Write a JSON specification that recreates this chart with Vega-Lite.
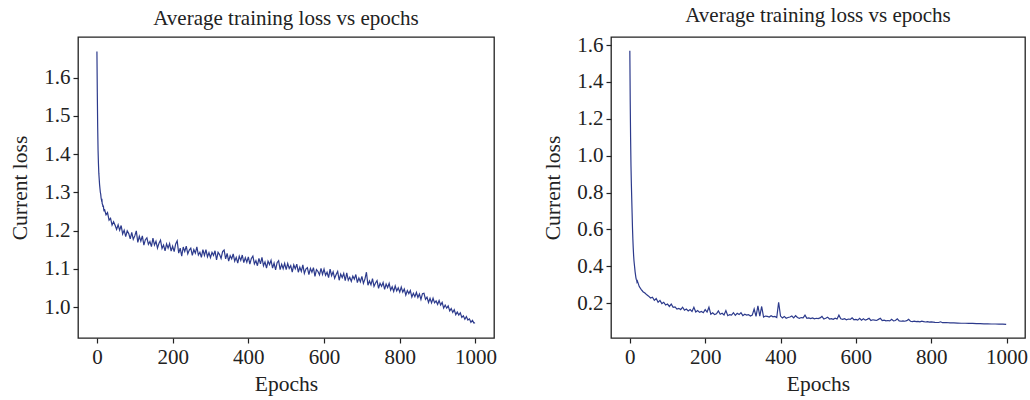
{
  "$schema": "https://vega.github.io/schema/vega-lite/v6.json",
  "background": "white",
  "padding": {"left": 9, "top": 4, "right": 4, "bottom": 4},
  "spacing": 44,
  "datasets": {
    "left": [
      {"epoch":0,"loss":1.668},{"epoch":1,"loss":1.56},{"epoch":2,"loss":1.47},{"epoch":3,"loss":1.41},{"epoch":4,"loss":1.375},{"epoch":5,"loss":1.35},{"epoch":6,"loss":1.335},{"epoch":7,"loss":1.32},{"epoch":8,"loss":1.31},{"epoch":9,"loss":1.3},{"epoch":10,"loss":1.295},{"epoch":11,"loss":1.285},{"epoch":12,"loss":1.28},{"epoch":13,"loss":1.283},{"epoch":14,"loss":1.27},{"epoch":15,"loss":1.268},{"epoch":16,"loss":1.262},{"epoch":17,"loss":1.265},{"epoch":18,"loss":1.255},{"epoch":19,"loss":1.25},
      {"epoch":20,"loss":1.256},{"epoch":24,"loss":1.241},{"epoch":28,"loss":1.247},{"epoch":32,"loss":1.227},{"epoch":36,"loss":1.232},{"epoch":40,"loss":1.214},{"epoch":44,"loss":1.223},{"epoch":48,"loss":1.214},
      {"epoch":52,"loss":1.203},{"epoch":56,"loss":1.215},{"epoch":60,"loss":1.201},{"epoch":64,"loss":1.213},{"epoch":68,"loss":1.191},{"epoch":72,"loss":1.201},{"epoch":76,"loss":1.184},{"epoch":80,"loss":1.199},{"epoch":84,"loss":1.192},{"epoch":88,"loss":1.178},{"epoch":92,"loss":1.195},{"epoch":96,"loss":1.177},
      {"epoch":100,"loss":1.186},{"epoch":104,"loss":1.199},{"epoch":108,"loss":1.169},{"epoch":112,"loss":1.185},{"epoch":116,"loss":1.172},{"epoch":120,"loss":1.186},{"epoch":124,"loss":1.162},{"epoch":128,"loss":1.176},{"epoch":132,"loss":1.181},{"epoch":136,"loss":1.164},{"epoch":140,"loss":1.171},{"epoch":144,"loss":1.158},{"epoch":148,"loss":1.18},{"epoch":152,"loss":1.162},{"epoch":156,"loss":1.172},{"epoch":160,"loss":1.154},{"epoch":164,"loss":1.167},{"epoch":168,"loss":1.175},{"epoch":172,"loss":1.153},{"epoch":176,"loss":1.162},{"epoch":180,"loss":1.147},{"epoch":184,"loss":1.165},{"epoch":188,"loss":1.154},{"epoch":192,"loss":1.166},{"epoch":196,"loss":1.146},
      {"epoch":200,"loss":1.159},{"epoch":204,"loss":1.145},{"epoch":208,"loss":1.165},{"epoch":212,"loss":1.173},{"epoch":216,"loss":1.141},{"epoch":220,"loss":1.154},{"epoch":224,"loss":1.133},{"epoch":228,"loss":1.157},{"epoch":232,"loss":1.145},{"epoch":236,"loss":1.159},{"epoch":240,"loss":1.139},{"epoch":244,"loss":1.149},{"epoch":248,"loss":1.154},{"epoch":252,"loss":1.135},{"epoch":256,"loss":1.15},{"epoch":260,"loss":1.141},{"epoch":264,"loss":1.157},{"epoch":268,"loss":1.136},{"epoch":272,"loss":1.143},{"epoch":276,"loss":1.13},{"epoch":280,"loss":1.15},{"epoch":284,"loss":1.135},{"epoch":288,"loss":1.15},{"epoch":292,"loss":1.131},{"epoch":296,"loss":1.142},
      {"epoch":300,"loss":1.129},{"epoch":304,"loss":1.143},{"epoch":308,"loss":1.135},{"epoch":312,"loss":1.147},{"epoch":316,"loss":1.123},{"epoch":320,"loss":1.143},{"epoch":324,"loss":1.137},{"epoch":328,"loss":1.127},{"epoch":332,"loss":1.145},{"epoch":336,"loss":1.149},{"epoch":340,"loss":1.126},{"epoch":344,"loss":1.14},{"epoch":348,"loss":1.12},{"epoch":352,"loss":1.134},{"epoch":356,"loss":1.126},{"epoch":360,"loss":1.139},{"epoch":364,"loss":1.12},{"epoch":368,"loss":1.13},{"epoch":372,"loss":1.115},{"epoch":376,"loss":1.133},{"epoch":380,"loss":1.122},{"epoch":384,"loss":1.136},{"epoch":388,"loss":1.116},{"epoch":392,"loss":1.129},{"epoch":396,"loss":1.117},
      {"epoch":400,"loss":1.131},{"epoch":404,"loss":1.112},{"epoch":408,"loss":1.127},{"epoch":412,"loss":1.133},{"epoch":416,"loss":1.113},{"epoch":420,"loss":1.121},{"epoch":424,"loss":1.108},{"epoch":428,"loss":1.127},{"epoch":432,"loss":1.113},{"epoch":436,"loss":1.13},{"epoch":440,"loss":1.108},{"epoch":444,"loss":1.118},{"epoch":448,"loss":1.102},{"epoch":452,"loss":1.12},{"epoch":456,"loss":1.111},{"epoch":460,"loss":1.122},{"epoch":464,"loss":1.102},{"epoch":468,"loss":1.115},{"epoch":472,"loss":1.097},{"epoch":476,"loss":1.116},{"epoch":480,"loss":1.121},{"epoch":484,"loss":1.098},{"epoch":488,"loss":1.112},{"epoch":492,"loss":1.1},{"epoch":496,"loss":1.114},
      {"epoch":500,"loss":1.098},{"epoch":504,"loss":1.114},{"epoch":508,"loss":1.101},{"epoch":512,"loss":1.108},{"epoch":516,"loss":1.091},{"epoch":520,"loss":1.11},{"epoch":524,"loss":1.1},{"epoch":528,"loss":1.112},{"epoch":532,"loss":1.091},{"epoch":536,"loss":1.104},{"epoch":540,"loss":1.093},{"epoch":544,"loss":1.11},{"epoch":548,"loss":1.088},{"epoch":552,"loss":1.099},{"epoch":556,"loss":1.103},{"epoch":560,"loss":1.085},{"epoch":564,"loss":1.101},{"epoch":568,"loss":1.091},{"epoch":572,"loss":1.103},{"epoch":576,"loss":1.08},{"epoch":580,"loss":1.098},{"epoch":584,"loss":1.093},{"epoch":588,"loss":1.084},{"epoch":592,"loss":1.101},{"epoch":596,"loss":1.085},
      {"epoch":600,"loss":1.099},{"epoch":604,"loss":1.083},{"epoch":608,"loss":1.091},{"epoch":612,"loss":1.077},{"epoch":616,"loss":1.099},{"epoch":620,"loss":1.082},{"epoch":624,"loss":1.092},{"epoch":628,"loss":1.075},{"epoch":632,"loss":1.085},{"epoch":636,"loss":1.093},{"epoch":640,"loss":1.07},{"epoch":644,"loss":1.086},{"epoch":648,"loss":1.077},{"epoch":652,"loss":1.088},{"epoch":656,"loss":1.069},{"epoch":660,"loss":1.089},{"epoch":664,"loss":1.07},{"epoch":668,"loss":1.078},{"epoch":672,"loss":1.067},{"epoch":676,"loss":1.081},{"epoch":680,"loss":1.073},{"epoch":684,"loss":1.085},{"epoch":688,"loss":1.064},{"epoch":692,"loss":1.076},{"epoch":696,"loss":1.066},
      {"epoch":700,"loss":1.08},{"epoch":704,"loss":1.062},{"epoch":708,"loss":1.073},{"epoch":712,"loss":1.091},{"epoch":716,"loss":1.057},{"epoch":720,"loss":1.068},{"epoch":724,"loss":1.058},{"epoch":728,"loss":1.074},{"epoch":732,"loss":1.054},{"epoch":736,"loss":1.063},{"epoch":740,"loss":1.069},{"epoch":744,"loss":1.049},{"epoch":748,"loss":1.062},{"epoch":752,"loss":1.054},{"epoch":756,"loss":1.064},{"epoch":760,"loss":1.046},{"epoch":764,"loss":1.06},{"epoch":768,"loss":1.051},{"epoch":772,"loss":1.062},{"epoch":776,"loss":1.044},{"epoch":780,"loss":1.053},{"epoch":784,"loss":1.041},{"epoch":788,"loss":1.055},{"epoch":792,"loss":1.042},{"epoch":796,"loss":1.05},
      {"epoch":800,"loss":1.039},{"epoch":804,"loss":1.052},{"epoch":808,"loss":1.039},{"epoch":812,"loss":1.047},{"epoch":816,"loss":1.031},{"epoch":820,"loss":1.043},{"epoch":824,"loss":1.035},{"epoch":828,"loss":1.043},{"epoch":832,"loss":1.026},{"epoch":836,"loss":1.036},{"epoch":840,"loss":1.027},{"epoch":844,"loss":1.038},{"epoch":848,"loss":1.025},{"epoch":852,"loss":1.034},{"epoch":856,"loss":1.02},{"epoch":860,"loss":1.035},{"epoch":864,"loss":1.036},{"epoch":868,"loss":1.02},{"epoch":872,"loss":1.026},{"epoch":876,"loss":1.012},{"epoch":880,"loss":1.023},{"epoch":884,"loss":1.011},{"epoch":888,"loss":1.023},{"epoch":892,"loss":1.011},{"epoch":896,"loss":1.016},
      {"epoch":900,"loss":1.007},{"epoch":904,"loss":1.017},{"epoch":908,"loss":1.005},{"epoch":912,"loss":1.012},{"epoch":916,"loss":0.997},{"epoch":920,"loss":1.005},{"epoch":924,"loss":0.997},{"epoch":928,"loss":1.003},{"epoch":932,"loss":0.99},{"epoch":936,"loss":0.996},{"epoch":940,"loss":0.986},{"epoch":944,"loss":0.993},{"epoch":948,"loss":0.98},{"epoch":952,"loss":0.987},{"epoch":956,"loss":0.979},{"epoch":960,"loss":0.985},{"epoch":964,"loss":0.973},{"epoch":968,"loss":0.977},{"epoch":972,"loss":0.968},{"epoch":976,"loss":0.975},{"epoch":980,"loss":0.966},{"epoch":984,"loss":0.969},{"epoch":988,"loss":0.96},{"epoch":992,"loss":0.965},{"epoch":996,"loss":0.958},{"epoch":999,"loss":0.959}
    ],
    "right": [
      {"epoch":0,"loss":1.57},{"epoch":1,"loss":1.3},{"epoch":2,"loss":1.1},{"epoch":3,"loss":0.95},{"epoch":4,"loss":0.85},{"epoch":5,"loss":0.77},{"epoch":6,"loss":0.69},{"epoch":7,"loss":0.61},{"epoch":8,"loss":0.55},{"epoch":9,"loss":0.5},{"epoch":10,"loss":0.46},{"epoch":11,"loss":0.43},{"epoch":12,"loss":0.41},{"epoch":13,"loss":0.39},{"epoch":14,"loss":0.37},{"epoch":15,"loss":0.355},{"epoch":16,"loss":0.34},{"epoch":17,"loss":0.33},{"epoch":18,"loss":0.325},{"epoch":19,"loss":0.315},
      {"epoch":20,"loss":0.32},{"epoch":25,"loss":0.29},{"epoch":30,"loss":0.275},{"epoch":35,"loss":0.262},{"epoch":40,"loss":0.255},{"epoch":45,"loss":0.245},{"epoch":50,"loss":0.238},{"epoch":55,"loss":0.228},{"epoch":60,"loss":0.232},{"epoch":65,"loss":0.215},{"epoch":70,"loss":0.225},{"epoch":75,"loss":0.205},{"epoch":80,"loss":0.215},{"epoch":85,"loss":0.198},{"epoch":90,"loss":0.205},{"epoch":95,"loss":0.19},{"epoch":100,"loss":0.195},{"epoch":105,"loss":0.182},{"epoch":110,"loss":0.195},{"epoch":115,"loss":0.178},{"epoch":120,"loss":0.18},{"epoch":125,"loss":0.168},{"epoch":130,"loss":0.172},{"epoch":135,"loss":0.165},{"epoch":140,"loss":0.178},{"epoch":145,"loss":0.162},{"epoch":150,"loss":0.168},{"epoch":155,"loss":0.158},{"epoch":160,"loss":0.165},{"epoch":165,"loss":0.155},{"epoch":170,"loss":0.178},{"epoch":175,"loss":0.152},{"epoch":180,"loss":0.16},{"epoch":185,"loss":0.15},{"epoch":190,"loss":0.155},{"epoch":195,"loss":0.148},{"epoch":200,"loss":0.165},{"epoch":205,"loss":0.152},{"epoch":210,"loss":0.178},{"epoch":215,"loss":0.14},{"epoch":220,"loss":0.148},{"epoch":225,"loss":0.138},{"epoch":230,"loss":0.142},{"epoch":235,"loss":0.158},{"epoch":240,"loss":0.14},{"epoch":245,"loss":0.145},{"epoch":250,"loss":0.136},{"epoch":255,"loss":0.16},{"epoch":260,"loss":0.132},{"epoch":265,"loss":0.138},{"epoch":270,"loss":0.135},{"epoch":275,"loss":0.148},{"epoch":280,"loss":0.134},{"epoch":285,"loss":0.145},{"epoch":290,"loss":0.138},{"epoch":295,"loss":0.148},{"epoch":300,"loss":0.132},{"epoch":305,"loss":0.14},{"epoch":310,"loss":0.135},{"epoch":315,"loss":0.138},{"epoch":320,"loss":0.13},{"epoch":325,"loss":0.135},{"epoch":330,"loss":0.168},{"epoch":335,"loss":0.128},{"epoch":340,"loss":0.185},{"epoch":345,"loss":0.13},{"epoch":350,"loss":0.182},{"epoch":355,"loss":0.125},{"epoch":360,"loss":0.13},{"epoch":365,"loss":0.128},{"epoch":370,"loss":0.125},{"epoch":375,"loss":0.132},{"epoch":380,"loss":0.126},{"epoch":385,"loss":0.128},{"epoch":390,"loss":0.122},{"epoch":395,"loss":0.205},{"epoch":400,"loss":0.13},{"epoch":405,"loss":0.12},{"epoch":410,"loss":0.128},{"epoch":415,"loss":0.118},{"epoch":420,"loss":0.122},{"epoch":425,"loss":0.125},{"epoch":430,"loss":0.13},{"epoch":435,"loss":0.12},{"epoch":440,"loss":0.132},{"epoch":445,"loss":0.122},{"epoch":450,"loss":0.118},{"epoch":455,"loss":0.122},{"epoch":460,"loss":0.12},{"epoch":465,"loss":0.135},{"epoch":470,"loss":0.118},{"epoch":475,"loss":0.12},{"epoch":480,"loss":0.116},{"epoch":485,"loss":0.12},{"epoch":490,"loss":0.115},{"epoch":495,"loss":0.118},{"epoch":500,"loss":0.116},{"epoch":505,"loss":0.12},{"epoch":510,"loss":0.128},{"epoch":515,"loss":0.114},{"epoch":520,"loss":0.118},{"epoch":525,"loss":0.124},{"epoch":530,"loss":0.114},{"epoch":535,"loss":0.116},{"epoch":540,"loss":0.112},{"epoch":545,"loss":0.118},{"epoch":550,"loss":0.114},{"epoch":555,"loss":0.135},{"epoch":560,"loss":0.115},{"epoch":565,"loss":0.112},{"epoch":570,"loss":0.116},{"epoch":575,"loss":0.11},{"epoch":580,"loss":0.114},{"epoch":585,"loss":0.112},{"epoch":590,"loss":0.12},{"epoch":595,"loss":0.11},{"epoch":600,"loss":0.112},{"epoch":605,"loss":0.108},{"epoch":610,"loss":0.118},{"epoch":615,"loss":0.108},{"epoch":620,"loss":0.115},{"epoch":625,"loss":0.108},{"epoch":630,"loss":0.112},{"epoch":635,"loss":0.118},{"epoch":640,"loss":0.106},{"epoch":645,"loss":0.11},{"epoch":650,"loss":0.108},{"epoch":655,"loss":0.106},{"epoch":660,"loss":0.112},{"epoch":665,"loss":0.118},{"epoch":670,"loss":0.105},{"epoch":675,"loss":0.108},{"epoch":680,"loss":0.104},{"epoch":685,"loss":0.106},{"epoch":690,"loss":0.104},{"epoch":695,"loss":0.112},{"epoch":700,"loss":0.104},{"epoch":705,"loss":0.106},{"epoch":710,"loss":0.115},{"epoch":715,"loss":0.104},{"epoch":720,"loss":0.102},{"epoch":725,"loss":0.104},{"epoch":730,"loss":0.102},{"epoch":735,"loss":0.105},{"epoch":740,"loss":0.112},{"epoch":745,"loss":0.102},{"epoch":750,"loss":0.1},{"epoch":755,"loss":0.102},{"epoch":760,"loss":0.1},{"epoch":765,"loss":0.101},{"epoch":770,"loss":0.099},{"epoch":775,"loss":0.102},{"epoch":780,"loss":0.1},{"epoch":785,"loss":0.098},{"epoch":790,"loss":0.1},{"epoch":795,"loss":0.097},{"epoch":800,"loss":0.098},{"epoch":810,"loss":0.096},{"epoch":820,"loss":0.095},{"epoch":825,"loss":0.099},{"epoch":830,"loss":0.094},{"epoch":840,"loss":0.095},{"epoch":850,"loss":0.093},{"epoch":860,"loss":0.093},{"epoch":870,"loss":0.092},{"epoch":880,"loss":0.091},{"epoch":890,"loss":0.091},{"epoch":900,"loss":0.09},{"epoch":910,"loss":0.09},{"epoch":920,"loss":0.089},{"epoch":930,"loss":0.089},{"epoch":940,"loss":0.088},{"epoch":950,"loss":0.088},{"epoch":960,"loss":0.087},{"epoch":970,"loss":0.087},{"epoch":980,"loss":0.086},{"epoch":990,"loss":0.086},{"epoch":999,"loss":0.085}
    ]
  },
  "hconcat": [
    {
      "width": 416,
      "height": 301,
      "title": "Average training loss vs epochs",
      "data": {"name": "left"},
      "mark": {"type": "line", "color": "#2c3a8c", "strokeWidth": 1.2},
      "encoding": {
        "x": {"field": "epoch", "type": "quantitative", "title": "Epochs",
              "scale": {"domain": [-50, 1049], "nice": false, "zero": false},
              "axis": {"values": [0, 200, 400, 600, 800, 1000], "format": "d"}},
        "y": {"field": "loss", "type": "quantitative", "title": "Current loss",
              "scale": {"domain": [0.919, 1.706], "nice": false, "zero": false},
              "axis": {"values": [1.0, 1.1, 1.2, 1.3, 1.4, 1.5, 1.6], "format": ".1f"}}
      }
    },
    {
      "width": 414,
      "height": 301,
      "title": "Average training loss vs epochs",
      "data": {"name": "right"},
      "mark": {"type": "line", "color": "#2c3a8c", "strokeWidth": 1.2},
      "encoding": {
        "x": {"field": "epoch", "type": "quantitative", "title": "Epochs",
              "scale": {"domain": [-50, 1049], "nice": false, "zero": false},
              "axis": {"values": [0, 200, 400, 600, 800, 1000], "format": "d"}},
        "y": {"field": "loss", "type": "quantitative", "title": "Current loss",
              "scale": {"domain": [0.011, 1.644], "nice": false, "zero": false},
              "axis": {"values": [0.2, 0.4, 0.6, 0.8, 1.0, 1.2, 1.4, 1.6], "format": ".1f"}}
      }
    }
  ],
  "config": {
    "font": "Liberation Serif",
    "view": {"stroke": "#222222", "strokeWidth": 1.3},
    "title": {"font": "Liberation Serif", "fontSize": 21, "fontWeight": "normal", "color": "#222222", "offset": 8},
    "axis": {
      "labelFont": "Liberation Serif", "labelFontSize": 21, "labelColor": "#222222",
      "titleFont": "Liberation Serif", "titleFontSize": 21.5, "titleFontWeight": "normal", "titleColor": "#222222",
      "tickColor": "#222222", "tickSize": 5, "tickWidth": 1.2,
      "domain": false, "grid": false, "labelPadding": 3
    },
    "axisY": {"titlePadding": 12},
    "axisX": {"titlePadding": 6}
  }
}
